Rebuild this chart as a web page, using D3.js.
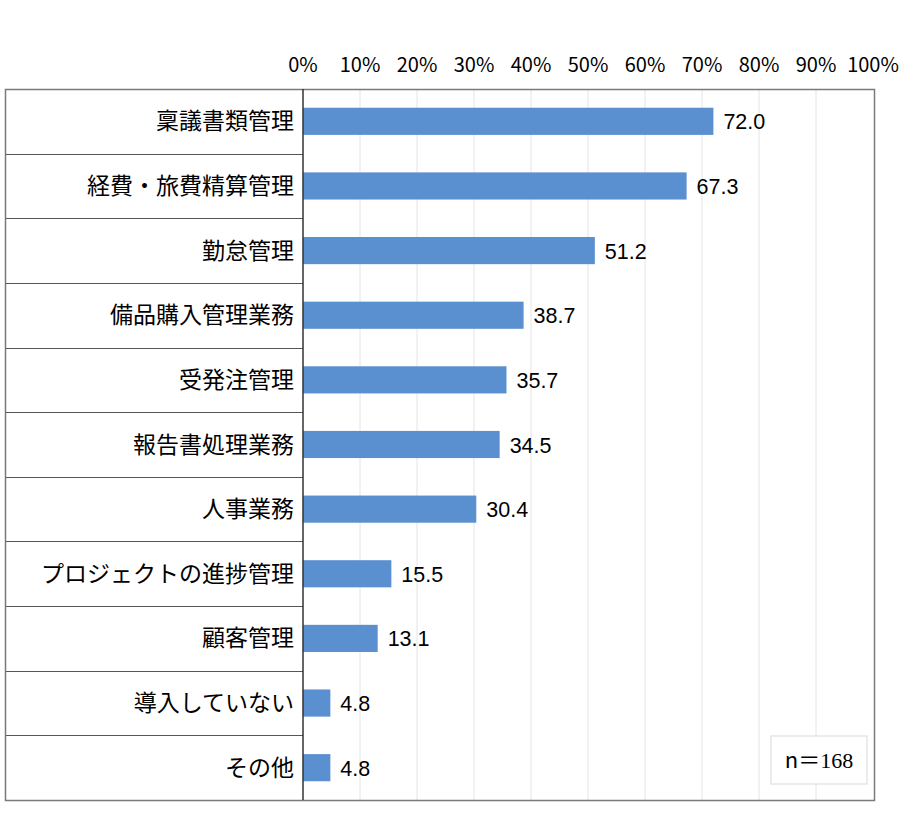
<!DOCTYPE html>
<html>
<head>
  <meta charset='utf-8'>
  <script src="https://d3js.org/d3.v7.min.js"></script>
  <style>
    body { margin: 0; background: #fff; }
    text { font-family: "Noto Sans CJK JP", sans-serif; fill: #000; }
  </style>
</head>
<body>
  <script type='text/javascript'>
    // Chart data
    var categories = ['稟議書類管理', '経費・旅費精算管理', '勤怠管理', '備品購入管理業務', '受発注管理',
      '報告書処理業務', '人事業務', 'プロジェクトの進捗管理', '顧客管理', '導入していない', 'その他'];
    var values = [72.0, 67.3, 51.2, 38.7, 35.7, 34.5, 30.4, 15.5, 13.1, 4.8, 4.8];
    var ticks = [0, 10, 20, 30, 40, 50, 60, 70, 80, 90, 100];
    var sampleNote = 'n＝168';

    var width = 900, height = 818;
    var box = {left: 5, axis: 303, right: 873, top: 89, bottom: 800};

    var svg = d3.select('body')
      .append('svg')
      .attr('width', width)
      .attr('height', height);

    var x = d3.scaleLinear().domain([0, 100]).range([box.axis, box.right]);
    // bands for bars, rows for the separators of the label column
    var y = d3.scaleBand().domain(categories).range([box.top, box.bottom])
      .paddingInner(0.58).paddingOuter(0.29);
    var rows = d3.scaleBand().domain(categories).range([box.top, box.bottom]);

    // Gridlines
    svg.append('g')
      .selectAll('line')
      .data(ticks.slice(1, -1))
      .enter().append('line')
      .attr('x1', function(d) { return x(d); })
      .attr('x2', function(d) { return x(d); })
      .attr('y1', box.top)
      .attr('y2', box.bottom)
      .attr('stroke', '#e4e4e4')
      .attr('stroke-width', 1);

    // Top tick labels
    svg.append('g')
      .selectAll('text')
      .data(ticks)
      .enter().append('text')
      .attr('x', function(d) { return x(d); })
      .attr('y', 72)
      .attr('text-anchor', 'middle')
      .style('font-size', '20px')
      .text(function(d) { return d + '%'; });

    // Row separators in label column
    svg.append('g')
      .selectAll('line')
      .data(categories.slice(1))
      .enter().append('line')
      .attr('x1', box.left)
      .attr('x2', box.axis)
      .attr('y1', function(d) { return Math.round(rows(d)) + 0.5; })
      .attr('y2', function(d) { return Math.round(rows(d)) + 0.5; })
      .attr('stroke', '#555')
      .attr('stroke-width', 1.2);

    // Outer frame
    svg.append('rect')
      .attr('x', box.left + 0.5)
      .attr('y', box.top + 0.5)
      .attr('width', box.right + 1 - box.left)
      .attr('height', box.bottom - box.top)
      .attr('fill', 'none')
      .attr('stroke', '#7a7a7a')
      .attr('stroke-width', 1.5);

    // Bars
    svg.append('g')
      .selectAll('rect')
      .data(values)
      .enter().append('rect')
      .attr('x', x(0))
      .attr('y', function(d, i) { return y(categories[i]); })
      .attr('width', function(d) { return x(d) - x(0); })
      .attr('height', y.bandwidth())
      .attr('fill', '#5a8fd0');

    // Value labels
    svg.append('g')
      .selectAll('text')
      .data(values)
      .enter().append('text')
      .attr('x', function(d) { return x(d) + 10; })
      .attr('y', function(d, i) { return y(categories[i]) + y.bandwidth() / 2 + 8; })
      .style('font-family', '"Liberation Sans", Arial, sans-serif')
      .style('font-size', '21.5px')
      .text(function(d) { return d.toFixed(1); });

    // Category labels
    svg.append('g')
      .selectAll('text')
      .data(categories)
      .enter().append('text')
      .attr('x', box.axis - 9)
      .attr('y', function(d) { return rows(d) + rows.bandwidth() / 2 + 8; })
      .attr('text-anchor', 'end')
      .style('font-size', '23px')
      .text(function(d) { return d; });

    // Category axis line
    svg.append('line')
      .attr('x1', box.axis)
      .attr('x2', box.axis)
      .attr('y1', box.top)
      .attr('y2', box.bottom)
      .attr('stroke', '#333')
      .attr('stroke-width', 1.5);

    // Sample size note
    var note = svg.append('g').attr('transform', 'translate(771,736)');
    note.append('rect')
      .attr('width', 96)
      .attr('height', 48)
      .attr('fill', '#fff')
      .attr('stroke', '#d9d9d9');
    var nt = note.append('text')
      .attr('x', 48)
      .attr('y', 32)
      .attr('text-anchor', 'middle')
      .style('font-size', '22px');
    nt.append('tspan').text(sampleNote.slice(0, 1));
    nt.append('tspan').style('font-family', '"Liberation Serif", "Noto Sans CJK JP", serif')
      .text(sampleNote.slice(1));
  </script>
</body>
</html>
